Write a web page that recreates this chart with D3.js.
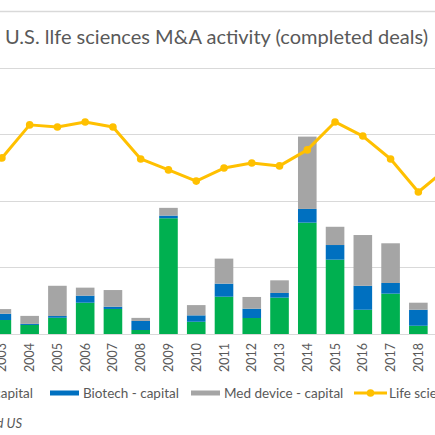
<!DOCTYPE html>
<html>
<head>
<meta charset="utf-8">
<script src="https://cdn.jsdelivr.net/npm/d3@7"></script>
<style>
  body { margin: 0; background: #fff; }
  svg { display: block; overflow: hidden; }
  text { font-family: Lato, "Open Sans", sans-serif; fill: #595959; }
</style>
</head>
<body>
<svg id="chart" width="435" height="435"></svg>
<script>
(function () {
    // values (capital in $B, deals as counts)
    const years = ["2003", "2004", "2005", "2006", "2007", "2008", "2009", "2010", "2011",
        "2012", "2013", "2014", "2015", "2016", "2017", "2018", "2019"];
    const labelledYears = years.slice(0, 16);
    const pharmaCapital = [10.5, 6.8, 12.2, 23.5, 18.8, 3.0, 86.9, 9.2, 28.0, 12.0, 27.3, 83.6, 55.8, 18.2, 30.3, 6.2, 0];
    const biotechCapital = [4.7, 0.8, 1.3, 5.3, 1.7, 6.8, 2.0, 4.8, 9.8, 7.0, 3.5, 10.3, 11.0, 18.0, 8.0, 12.0, 0];
    const medDeviceCapital = [3.5, 6.0, 22.7, 6.0, 12.5, 2.3, 5.8, 7.7, 18.8, 8.8, 9.5, 54.3, 13.7, 38.1, 29.8, 5.3, 0];
    const lifeSciencesDeals = [661, 785, 777, 796, 777, 657, 616, 574, 623, 642, 631, 691, 796, 743, 657, 533, 619];
    const capitalTicks = [0, 50, 100, 150, 200];
    const seriesNames = ["Pharma - capital", "Biotech - capital", "Med device - capital", "Life sciences - deals"];
    const colors = ["#00b050", "#0070c0", "#a5a5a5", "#ffc000"];

    const svg = d3.select("svg#chart");
    const W = +svg.attr("width");

    const x = d3.scaleBand()
        .domain(years)
        .range([-12, 460])
        .paddingInner(0.33)
        .paddingOuter(0.165);
    const y = d3.scaleLinear().domain([0, 200]).range([334, 67.6]);
    const y2 = d3.scaleLinear().domain([0, 1000]).range([334, 67.6]);

    // frame line above the title
    svg.append("line")
        .attr("x1", 0).attr("x2", W)
        .attr("y1", 11.5).attr("y2", 11.5)
        .attr("stroke", "#d9d9d9")
        .attr("stroke-width", 1.5);

    // title
    svg.append("text")
        .attr("x", 5)
        .attr("y", 44)
        .attr("font-size", 20)
        .attr("textLength", 423)
        .attr("lengthAdjust", "spacingAndGlyphs")
        .text("U.S. llfe sciences M&A activity (completed deals)");

    // gridlines
    svg.append("g")
        .selectAll("line")
        .data(capitalTicks)
        .join("line")
        .attr("x1", 0).attr("x2", W)
        .attr("y1", d => Math.round(y(d)) + 0.5)
        .attr("y2", d => Math.round(y(d)) + 0.5)
        .attr("stroke", "#d9d9d9")
        .attr("stroke-width", 1.2);

    // stacked bars
    const rows = years.map((yr, i) => ({
        year: yr,
        pharma: pharmaCapital[i],
        biotech: biotechCapital[i],
        med: medDeviceCapital[i]
    }));
    const stack = d3.stack().keys(["pharma", "biotech", "med"])(rows);

    svg.append("g")
        .selectAll("g")
        .data(stack)
        .join("g")
        .attr("fill", (d, i) => colors[i])
        .selectAll("rect")
        .data(d => d)
        .join("rect")
        .attr("x", d => x(d.data.year))
        .attr("width", x.bandwidth())
        .attr("y", d => y(d[1]))
        .attr("height", d => y(d[0]) - y(d[1]));

    // x axis labels
    const xAxis = svg.append("g")
        .attr("transform", "translate(0,334)")
        .call(d3.axisBottom(x).tickValues(labelledYears).tickSize(0));
    xAxis.select(".domain").remove();
    xAxis.selectAll("text")
        .attr("transform", "rotate(-90)")
        .attr("text-anchor", "end")
        .attr("x", -9)
        .attr("y", 0)
        .attr("dy", "0.36em")
        .attr("font-size", 12.5)
        .attr("font-family", "Lato, sans-serif")
        .attr("fill", "#595959");

    // deals line
    const lineGen = d3.line()
        .x((d, i) => x(years[i]) + x.bandwidth() / 2)
        .y(d => y2(d));
    svg.append("path")
        .datum(lifeSciencesDeals)
        .attr("fill", "none")
        .attr("stroke", colors[3])
        .attr("stroke-width", 3)
        .attr("stroke-linejoin", "round")
        .attr("d", lineGen);
    svg.append("g")
        .selectAll("circle")
        .data(lifeSciencesDeals)
        .join("circle")
        .attr("cx", (d, i) => x(years[i]) + x.bandwidth() / 2)
        .attr("cy", d => y2(d))
        .attr("r", 3.8)
        .attr("fill", colors[3]);

    // legend
    const legend = svg.append("g").attr("transform", "translate(0,393)");
    const labelX = [33, 83, 224, 389];   // where each label starts/ends
    seriesNames.forEach((name, i) => {
        const item = legend.append("g");
        const t = item.append("text")
            .attr("y", 0)
            .attr("dy", "0.36em")
            .attr("font-size", 13.5)
            .text(name);
        if (i === 0) {
            t.attr("x", labelX[0]).attr("text-anchor", "end");
            const wText = t.node().getComputedTextLength();
            item.append("rect")
                .attr("x", labelX[0] - wText - 33).attr("y", -2.5)
                .attr("width", 29).attr("height", 5)
                .attr("fill", colors[i]);
        } else if (i < 3) {
            t.attr("x", labelX[i]);
            item.append("rect")
                .attr("x", labelX[i] - 33).attr("y", -2.5)
                .attr("width", 29).attr("height", 5)
                .attr("fill", colors[i]);
        } else {
            t.attr("x", labelX[i]);
            item.append("line")
                .attr("x1", labelX[i] - 35).attr("x2", labelX[i] - 2)
                .attr("y1", 0).attr("y2", 0)
                .attr("stroke", colors[i])
                .attr("stroke-width", 3);
            item.append("circle")
                .attr("cx", labelX[i] - 18.5).attr("cy", 0)
                .attr("r", 3.8)
                .attr("fill", colors[i]);
        }
    });

    // source note
    svg.append("text")
        .attr("x", 22)
        .attr("y", 427.5)
        .attr("text-anchor", "end")
        .attr("font-size", 13)
        .attr("font-style", "italic")
        .attr("font-family", "'Liberation Sans', Arial, sans-serif")
        .attr("fill", "#404040")
        .text("Source: company filings and US");
})();
</script>
</body>
</html>
